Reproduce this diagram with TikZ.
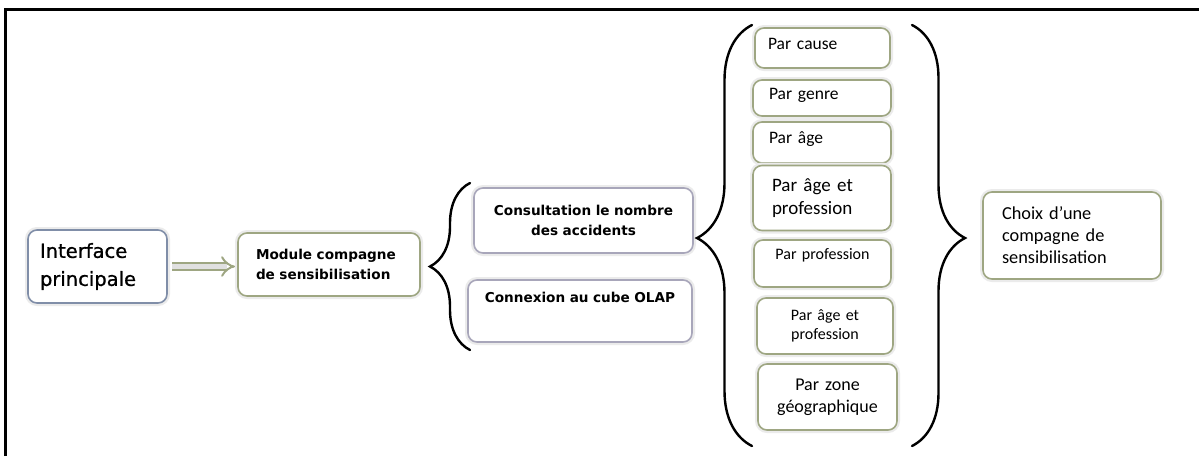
\documentclass[tikz,border=0pt]{standalone}
\usepackage{fontspec}
\setmainfont{Carlito}
\newfontfamily\grasfont{DejaVu Sans}
\newfontfamily\titrefont[FakeBold=0.9]{DejaVu Sans}
\usetikzlibrary{arrows.meta, decorations.pathreplacing}

\definecolor{olivebord}{RGB}{158,166,130}
\definecolor{bleubord}{RGB}{128,142,168}
\definecolor{mauvebord}{RGB}{168,166,186}

\tikzset{
	boite/.style={draw=olivebord, line width=1.6pt, rounded corners=9pt, fill=white,
		preaction={draw=black!8, line width=6pt}, inner ysep=0pt, outer sep=0pt},
	gras/.style={font=\grasfont\bfseries\fontsize{13.6}{20.5}\selectfont},
	accolade/.style={decorate, decoration={brace, amplitude=#1}, line width=2.4pt, line cap=round},
}

\begin{document}
\begin{tikzpicture}[x=1pt, y=-1pt]
	\useasboundingbox (0,0) rectangle (1199,456);
	\draw[line width=3pt] (5.5,456) -- (5.5,9) -- (1199,9);

	\node[boite, draw=bleubord, name=interface, minimum width=139, minimum height=73, inner xsep=12pt, text width=115, align=left,
		font=\titrefont\fontsize{19.5}{28}\selectfont] at (97.5, 266.5) {Interface\\principale};
	\node[boite, gras, name=module, minimum width=182, minimum height=63, inner xsep=18pt, text width=146, align=left] at (329, 264.5) {Module compagne\\de sensibilisation};

	\node[boite, gras, draw=mauvebord, name=consult, minimum width=219, minimum height=65, inner xsep=6pt, text width=207, align=center] at (583.5, 220.5) {Consultation le nombre\\des accidents};
	\node[boite, gras, draw=mauvebord, name=olap, minimum width=224, minimum height=62, inner xsep=6pt, text width=212, align=center, text depth=28pt] at (580, 311) {Connexion au cube OLAP};

	\node[boite, name=cause, minimum width=135, minimum height=40, inner xsep=13pt, text width=109, align=left, text depth=9pt,
		font=\fontsize{17.5}{22}\selectfont] at (822.5, 48) {Par cause};
	\node[boite, name=genre, minimum width=138, minimum height=36, inner xsep=16pt, text width=106, align=left, text depth=9pt,
		font=\fontsize{17.5}{22}\selectfont] at (822, 98) {Par genre};
	\node[boite, name=age, minimum width=138, minimum height=41, inner xsep=16pt, text width=106, align=left, text depth=9pt,
		font=\fontsize{17.5}{22}\selectfont] at (822, 142.5) {Par âge};
	\node[boite, name=agepro, minimum width=138, minimum height=65, inner xsep=19pt, text width=100, align=left,
		font=\fontsize{19}{23}\selectfont] at (822, 198) {Par âge et\\profession};
	\node[boite, name=pro, minimum width=137, minimum height=47, inner xsep=6pt, text width=125, align=center, text depth=20pt,
		font=\fontsize{16}{20}\selectfont] at (822.5, 263.5) {Par profession};
	\node[boite, name=agepro2, minimum width=136, minimum height=56, inner xsep=6pt, text width=124, align=center,
		font=\fontsize{16}{19}\selectfont] at (825, 326) {Par âge et\\profession};
	\node[boite, name=zone, minimum width=139, minimum height=66, inner xsep=6pt, text width=127, align=center,
		font=\fontsize{18}{22}\selectfont] at (827.5, 397) {Par zone\\géographique};

	\node[boite, name=choix, minimum width=178, minimum height=87, inner xsep=19pt, text width=140, align=left,
		font=\fontsize{18.3}{22}\selectfont] at (1072, 235.5) {Choix d’une\\compagne de\\sensibilisation};

	\draw[draw=olivebord, line width=2pt, double=black!12, double distance=5pt, -{Implies}, shorten <=5pt, shorten >=3pt]
		(interface.east) -- (interface.east -| module.west);

	\coordinate (a1haut) at (470, 183);
	\coordinate (a1bas) at (470, 350);
	\coordinate (a2haut) at (752, 25);
	\coordinate (a2bas) at (752, 446);
	\coordinate (a3haut) at (912, 25);
	\coordinate (a3bas) at (912, 446);
	\draw[accolade=40pt] (a1bas) -- (a1haut);
	\draw[accolade=55pt, decoration={aspect=0.494}] (a2bas) -- (a2haut);
	\draw[accolade=53pt, decoration={aspect=0.506}] (a3haut) -- (a3bas);
\end{tikzpicture}
\end{document}
